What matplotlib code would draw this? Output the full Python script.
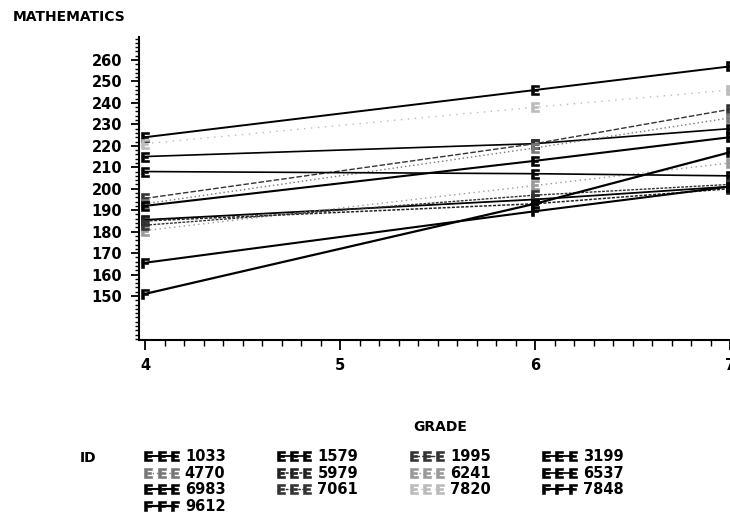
import matplotlib.pyplot as plt
from matplotlib.ticker import MultipleLocator, FixedLocator

plt.rcParams['font.family'] = ['Liberation Sans Narrow', 'DejaVu Sans']
plt.rcParams['font.weight'] = 'bold'

# grades measured
grades = [4, 6, 7]

# ids in legend order
ids = ['1033', '1579', '1995', '3199', '4770', '5979', '6241',
       '6537', '6983', '7061', '7820', '7848', '9612']

# math scores (grade 4, 6, 7)
scores = {
    '1033': [224, 246, 257],
    '1579': [215, 221, 228],
    '1995': [195.5, 221, 237],
    '3199': [185.5, 195, 201],
    '4770': [193, 219, 233],
    '5979': [185, 193, 200],
    '6241': [180.5, 201.5, 212],
    '6537': [208, 207, 206],
    '6983': [192, 213, 224],
    '7061': [183, 197, 202],
    '7820': [221, 238, 246],
    '7848': [165.5, 189.5, 201],
    '9612': [151, 193, 217],
}

E = r'$\mathsf{E}$'
F = r'$\mathsf{F}$'
styles = {
    '1033': dict(ls='-', color='black', lw=1.4, marker=E),
    '1579': dict(ls='-', color='black', lw=1.2, marker=E),
    '1995': dict(ls=(0, (4, 1.5)), color='#333333', lw=1.0, marker=E),
    '3199': dict(ls='-', color='black', lw=1.3, marker=E),
    '4770': dict(ls=(0, (1, 2)), color='#777777', lw=1.0, marker=E),
    '5979': dict(ls=(0, (2, 1)), color='#222222', lw=1.1, marker=E),
    '6241': dict(ls=(0, (1, 2.5)), color='#999999', lw=1.0, marker=E),
    '6537': dict(ls='-', color='black', lw=1.2, marker=E),
    '6983': dict(ls='-', color='black', lw=1.5, marker=E),
    '7061': dict(ls=(0, (2, 1)), color='#333333', lw=1.0, marker=E),
    '7820': dict(ls=(0, (1, 4)), color='#bbbbbb', lw=1.0, marker=E),
    '7848': dict(ls='-', color='black', lw=1.5, marker=F),
    '9612': dict(ls='-', color='black', lw=1.6, marker=F),
}

fig = plt.figure(figsize=(7.3, 5.22), dpi=100)
ax = fig.add_axes([139 / 730, 1 - 340 / 522, 591 / 730, 303 / 522])

handles = {}
for i in ids:
    st = styles[i]
    h, = ax.plot(grades, scores[i], linestyle=st['ls'], color=st['color'],
                 lw=st['lw'], marker=st['marker'], markersize=7.5,
                 markeredgewidth=0.4, markerfacecolor=st['color'],
                 clip_on=False, label=i)
    handles[i] = h

ax.set_xlim(3.969, 7.0)
ax.set_ylim(129.5, 270.7)

ax.spines['top'].set_visible(False)
ax.spines['right'].set_visible(False)
ax.spines['left'].set_linewidth(1.5)
ax.spines['bottom'].set_linewidth(1.5)

ax.xaxis.set_major_locator(FixedLocator([4, 5, 6, 7]))
ax.xaxis.set_minor_locator(MultipleLocator(0.1))
ax.yaxis.set_major_locator(FixedLocator(list(range(150, 261, 10))))
ax.yaxis.set_minor_locator(MultipleLocator(2))

ax.tick_params(axis='x', which='major', length=7, width=1.3, pad=6, labelsize=10.5)
ax.tick_params(axis='x', which='minor', length=4, width=1.0)
ax.tick_params(axis='y', which='major', length=6, width=1.3, pad=6, labelsize=10.5)
ax.tick_params(axis='y', which='minor', length=3, width=1.0)
for lab in ax.get_xticklabels() + ax.get_yticklabels():
    lab.set_fontweight('bold')

fig.text(13 / 730, 1 - 17 / 522, 'MATHEMATICS', fontsize=10, fontweight='bold',
         ha='left', va='center')
fig.text(440 / 730, 1 - 427 / 522, 'GRADE', fontsize=10, fontweight='bold',
         ha='center', va='center')
fig.text(88 / 730, 1 - 458 / 522, 'ID', fontsize=10, fontweight='bold',
         ha='center', va='center')

# legend filled row by row (matplotlib fills columns, so reorder)
ncol = 4
order = [ids[r * ncol + c] for c in range(ncol) for r in range(4)
         if r * ncol + c < len(ids)]
leg = fig.legend([handles[i] for i in order], order, loc='upper left',
                 bbox_to_anchor=(144 / 730, 1 - 449 / 522), ncol=ncol,
                 frameon=False, numpoints=3, handlelength=2.4,
                 handletextpad=0.4, columnspacing=3.5, labelspacing=0.12,
                 borderpad=0, borderaxespad=0,
                 prop={'weight': 'bold', 'size': 10.5})

fig.savefig('out.png', dpi=100)
